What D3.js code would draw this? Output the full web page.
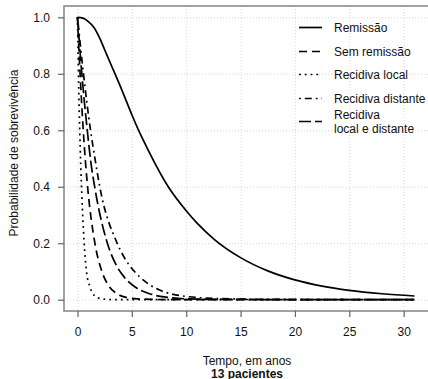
<!DOCTYPE html>
<html>
<head>
<meta charset="utf-8">
<script src="https://cdn.jsdelivr.net/npm/d3@7"></script>
<style>
  html, body { margin: 0; padding: 0; background: #fff; }
  svg { display: block; }
  text { font-family: "Liberation Sans", Arial, sans-serif; fill: #111; }
</style>
</head>
<body>
<svg id="chart" width="428" height="379"></svg>
<script>
// Survival curves by group (time in years, survival probability)
const remissaoT   = [0, 0.5, 1.0, 1.5, 2.0, 2.5, 3.0, 4.0, 5.0, 5.5, 6.5, 8.35, 10, 11, 12.6, 15, 17.5, 20, 22.5, 25, 28, 31];
const remissaoS   = [1.0, 0.997, 0.985, 0.965, 0.93, 0.885, 0.84, 0.75, 0.655, 0.61, 0.53, 0.40, 0.315, 0.271, 0.213, 0.149, 0.102, 0.070, 0.048, 0.033, 0.021, 0.013];

const semRemT     = [0, 0.24, 0.53, 0.73, 0.93, 1.6, 2.2, 2.9, 3.6, 4.4, 5.5, 7, 9, 31];
const semRemS     = [1.0, 0.8, 0.6, 0.49, 0.40, 0.20, 0.105, 0.048, 0.022, 0.009, 0.003, 0.001, 0.0, 0.0];

const localT      = [0, 0.1, 0.2, 0.3, 0.4, 0.6, 0.83, 1.15, 1.6, 2.1, 2.8, 4, 31];
const localS      = [1.0, 0.78, 0.61, 0.475, 0.37, 0.21, 0.10, 0.045, 0.013, 0.004, 0.001, 0.0, 0.0];

const distanteT   = [0, 0.55, 1.2, 1.65, 2.05, 3.65, 4.3, 5.3, 6.3, 7.5, 8.7, 9.9, 13, 18, 31];
const distanteS   = [1.0, 0.8, 0.6, 0.49, 0.40, 0.20, 0.15, 0.097, 0.062, 0.035, 0.02, 0.012, 0.004, 0.001, 0.0];

const localDistT  = [0, 0.4, 0.9, 1.22, 1.58, 2.75, 3.6, 4.3, 5.3, 6.7, 8.4, 10, 13, 31];
const localDistS  = [1.0, 0.8, 0.6, 0.49, 0.40, 0.20, 0.12, 0.08, 0.045, 0.02, 0.008, 0.003, 0.001, 0.0];

const groupNames  = ["Remissão", "Sem remissão", "Recidiva local", "Recidiva distante", "Recidiva\nlocal e distante"];
const xTicks      = [0, 5, 10, 15, 20, 25, 30];
const yTicks      = [0.0, 0.2, 0.4, 0.6, 0.8, 1.0];

const series = [
  { name: groupNames[0], t: remissaoT,  s: remissaoS,  dash: null },
  { name: groupNames[1], t: semRemT,    s: semRemS,    dash: "8,5" },
  { name: groupNames[2], t: localT,     s: localS,     dash: "1.8,4" },
  { name: groupNames[3], t: distanteT,  s: distanteS,  dash: "1.8,4,7,4" },
  { name: groupNames[4], t: localDistT, s: localDistS, dash: "12,4" }
];

const svg = d3.select("#chart");
const plotL = 64, plotR = 428, plotT = 6, plotB = 311;

const x = d3.scaleLinear().domain([-1.24, 32.24]).range([plotL, plotR]);
const y = d3.scaleLinear().domain([-0.04, 1.04]).range([plotB, plotT]);

// grid
const grid = svg.append("g").attr("stroke", "#d8d8d8").attr("stroke-width", 1).attr("stroke-dasharray", "1,2");
grid.selectAll("line.v").data(xTicks).join("line").attr("class", "v")
  .attr("x1", d => x(d) + 0.5).attr("x2", d => x(d) + 0.5)
  .attr("y1", plotT).attr("y2", plotB);
grid.selectAll("line.h").data(yTicks).join("line").attr("class", "h")
  .attr("y1", d => y(d) + 0.5).attr("y2", d => y(d) + 0.5)
  .attr("x1", plotL).attr("x2", plotR);

// plot box
svg.append("rect")
  .attr("x", plotL).attr("y", plotT)
  .attr("width", plotR - plotL + 2).attr("height", plotB - plotT)
  .attr("fill", "none").attr("stroke", "#8a8a8a").attr("stroke-width", 1.6);

// axes
const xAxis = d3.axisBottom(x).tickValues(xTicks).tickSize(6).tickPadding(10).tickFormat(d3.format("d"));
const gx = svg.append("g").attr("transform", `translate(0,${plotB})`).call(xAxis);
gx.select(".domain").remove();
gx.selectAll(".tick line").attr("stroke", "#666").attr("stroke-width", 1.2);
gx.selectAll(".tick text").attr("font-size", 12).attr("font-family", "Liberation Sans, Arial, sans-serif").attr("fill", "#111");

const yAxis = d3.axisLeft(y).tickValues(yTicks).tickSize(6).tickPadding(8).tickFormat(d3.format(".1f"));
const gy = svg.append("g").attr("transform", `translate(${plotL},0)`).call(yAxis);
gy.select(".domain").remove();
gy.selectAll(".tick line").attr("stroke", "#666").attr("stroke-width", 1.2);
gy.selectAll(".tick text").attr("font-size", 12).attr("font-family", "Liberation Sans, Arial, sans-serif").attr("fill", "#111");

// curves
const line = d3.line().x(d => x(d[0])).y(d => y(d[1])).curve(d3.curveMonotoneX);
svg.append("clipPath").attr("id", "plotclip")
  .append("rect").attr("x", plotL).attr("y", plotT).attr("width", plotR - plotL).attr("height", plotB - plotT);
svg.append("g").attr("clip-path", "url(#plotclip)")
  .selectAll("path").data(series).join("path")
  .attr("d", d => line(d.t.map((t, i) => [t, d.s[i]])))
  .attr("fill", "none").attr("stroke", "#000").attr("stroke-width", 1.7)
  .attr("stroke-dasharray", d => d.dash);

// legend
const legendRows = [27.5, 51.5, 74.5, 98.5, 121.5];
const lg = svg.append("g");
series.forEach((d, i) => {
  const cy = legendRows[i];
  lg.append("line").attr("x1", 299).attr("x2", 322).attr("y1", cy).attr("y2", cy)
    .attr("stroke", "#000").attr("stroke-width", 1.7).attr("stroke-dasharray", d.dash);
  const parts = d.name.split("\n");
  const t = lg.append("text").attr("x", 334).attr("font-size", 12);
  if (parts.length === 1) {
    t.attr("y", cy + 4.3).text(parts[0]);
  } else {
    t.append("tspan").attr("x", 334).attr("y", cy - 2.5).text(parts[0]);
    t.append("tspan").attr("x", 334).attr("y", cy + 11).text(parts[1]);
  }
});

// axis titles
svg.append("text").attr("x", 247).attr("y", 364.5).attr("text-anchor", "middle")
  .attr("font-size", 12).text("Tempo, em anos");
svg.append("text").attr("x", 247).attr("y", 377.5).attr("text-anchor", "middle")
  .attr("font-size", 12).attr("font-weight", "bold").text("13 pacientes");
svg.append("text").attr("transform", "translate(18,153) rotate(-90)").attr("text-anchor", "middle")
  .attr("font-size", 12).text("Probabilidade de sobrevivência");
</script>
</body>
</html>
